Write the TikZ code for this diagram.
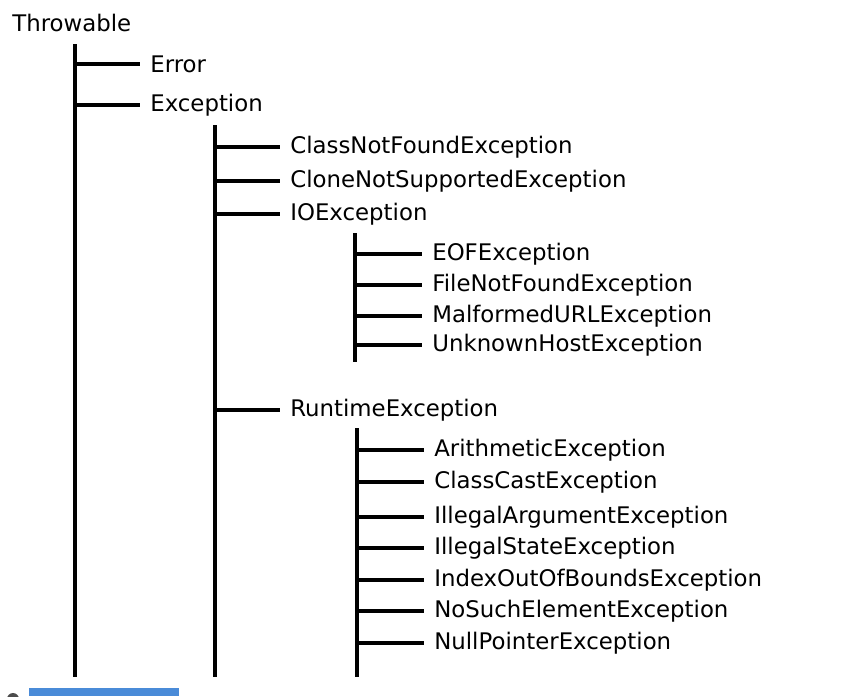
\documentclass[tikz,border=0pt]{standalone}
\usepackage{fontspec}
\setmainfont{DejaVu Sans}
\definecolor{SelBlue}{HTML}{4A8BD8}

\begin{document}
\begin{tikzpicture}[x=0.03cm,y=-0.03cm,line width=2.6pt,
    cls/.style={anchor=west,inner xsep=7.5pt,inner ysep=0pt,
      font=\fontsize{19.5}{23}\selectfont}]
  \useasboundingbox (0,0) rectangle (865,696);
  % root
  \node[cls] (thr) at (2,23) {Throwable};
  \coordinate (topA) at (75,44);
  \coordinate (botA) at (75,677);
  \draw (topA) -- (botA);
  \node[cls] (err) at (140,64) {Error};
  \node[cls] (exc) at (140,105) {Exception};
  \draw (topA |- err) -- (err);
  \draw (topA |- exc) -- (exc);
  % Exception
  \coordinate (topB) at (215,125);
  \coordinate (botB) at (215,677);
  \draw (topB) -- (botB);
  \node[cls] (cnf) at (280,147) {ClassNotFoundException};
  \node[cls] (cns) at (280,181) {CloneNotSupportedException};
  \node[cls] (ioe) at (280,214) {IOException};
  \node[cls] (rte) at (280,410) {RuntimeException};
  \foreach \n in {cnf,cns,ioe,rte}
    \draw (topB |- \n) -- (\n);
  % IOException
  \coordinate (topC) at (355,233);
  \coordinate (botC) at (355,362);
  \draw (topC) -- (botC);
  \node[cls] (eof) at (422,254) {EOFException};
  \node[cls] (fnf) at (422,285) {FileNotFoundException};
  \node[cls] (mal) at (422,316) {MalformedURLException};
  \node[cls] (uhe) at (422,345) {UnknownHostException};
  \foreach \n in {eof,fnf,mal,uhe}
    \draw (topC |- \n) -- (\n);
  % RuntimeException
  \coordinate (topD) at (357,428);
  \coordinate (botD) at (357,677);
  \draw (topD) -- (botD);
  \node[cls] (ari) at (424,450) {ArithmeticException};
  \node[cls] (cce) at (424,482) {ClassCastException};
  \node[cls] (iae) at (424,517) {IllegalArgumentException};
  \node[cls] (ise) at (424,548) {IllegalStateException};
  \node[cls] (ioo) at (424,580) {IndexOutOfBoundsException};
  \node[cls] (nse) at (424,611) {NoSuchElementException};
  \node[cls] (npe) at (424,643) {NullPointerException};
  \foreach \n in {ari,cce,iae,ise,ioo,nse,npe}
    \draw (topD |- \n) -- (\n);
  % cut-off strip at the bottom
  \fill[SelBlue] (29,688) rectangle (179,696);
  \fill[black!70] (13,699) circle (6);
\end{tikzpicture}
\end{document}
